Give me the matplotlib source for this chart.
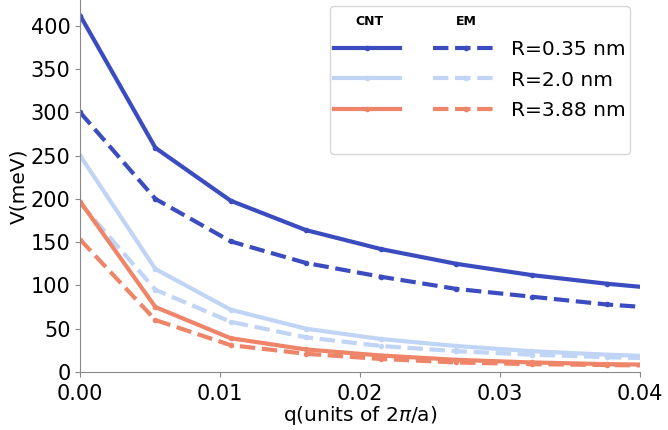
import matplotlib
matplotlib.use('Agg')
import matplotlib.pyplot as plt
from matplotlib.lines import Line2D

q = [0.0, 0.00538, 0.01075, 0.01613, 0.02151, 0.02688, 0.03226, 0.03763, 0.04301]

radii = ['R=0.35 nm', 'R=2.0 nm', 'R=3.88 nm']
colors = ['#3b4cc0', '#c0d4f5', '#ee8468']

cnt = [
    [412, 259, 198, 164, 142, 125, 112, 102, 94],
    [250, 119, 72, 50, 38, 30, 24, 20, 17],
    [197, 75, 39, 26, 19, 14, 11, 9, 8],
]
em = [
    [300, 200, 151, 126, 110, 96, 87, 78, 72],
    [195, 95, 58, 40, 30, 24, 20, 17, 15],
    [153, 60, 31, 21, 15, 11, 9, 8, 7],
]

fig, ax = plt.subplots(figsize=(6.68, 4.30), dpi=100)
fig.subplots_adjust(left=0.12, right=0.958, bottom=0.135, top=1.0)

cnt_handles = []
em_handles = []
for i in range(3):
    l1, = ax.plot(q, cnt[i], '-', color=colors[i], lw=3, marker='o', ms=3)
    l2, = ax.plot(q, em[i], '--', color=colors[i], lw=3, marker='o', ms=3)
    cnt_handles.append(l1)
    em_handles.append(l2)

ax.set_xlim(0, 0.04)
ax.set_ylim(0, 430)
ax.set_xticks([0, 0.01, 0.02, 0.03, 0.04])
ax.set_xticklabels(['0.00', '0.01', '0.02', '0.03', '0.04'])
ax.set_yticks(range(0, 401, 50))
ax.tick_params(labelsize=15, color='#888888')
ax.tick_params(axis='x', pad=5.5)
ax.set_xlabel('q(units of 2$\\pi$/a)', fontsize=14.5, labelpad=0)
ax.set_ylabel('V(meV)', fontsize=14.5, labelpad=2)
for s in ['top', 'right']:
    ax.spines[s].set_visible(False)
for s in ['left', 'bottom']:
    ax.spines[s].set_color('#888888')

blank = Line2D([], [], linestyle='none')
handles = [blank] + cnt_handles + [blank] + [blank] + em_handles + [blank]
labels = [''] * 5 + [''] + radii + ['']
ax.legend(handles, labels, ncol=2, loc='upper right', fontsize=14.5,
          handlelength=3.3, handletextpad=0.6, columnspacing=1.0,
          labelspacing=0.55, borderpad=0.2, bbox_to_anchor=(1.0, 1.01))
ax.text(0.516, 0.941, 'CNT', transform=ax.transAxes, fontsize=9,
        fontweight='bold', ha='center', va='center', zorder=10)
ax.text(0.689, 0.941, 'EM', transform=ax.transAxes, fontsize=9,
        fontweight='bold', ha='center', va='center', zorder=10)

fig.savefig('out.png', dpi=100)
